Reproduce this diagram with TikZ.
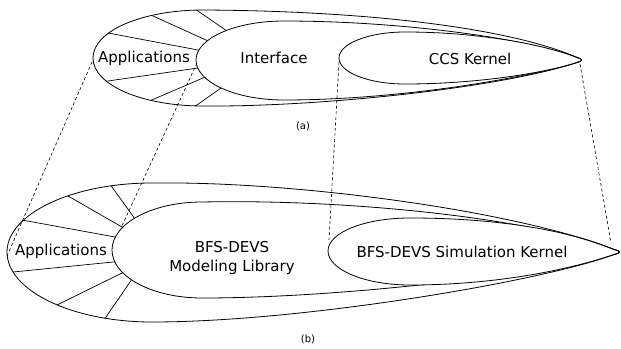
\documentclass[tikz,border=0pt]{standalone}
\usepackage{fontspec}
\setmainfont{DejaVu Sans}
\begin{document}
\begin{tikzpicture}[x=1pt,y=-1pt,
  shapeline/.style={line width=0.8pt},
  spoke/.style={line width=0.7pt, shorten <=-5pt, shorten >=-5pt},
  proj/.style={line width=0.6pt, dash pattern=on 3pt off 2.5pt},
  lbl/.style={inner sep=0pt, font=\fontsize{15}{19}\selectfont},
  captxt/.style={inner sep=0pt, font=\fontsize{10}{12}\selectfont}]
\useasboundingbox (0,0) rectangle (621,348);
% ---------- paths (a)
\def\outerA{(93,58) .. controls (93,31) and (142,10) .. (203,10)
  .. controls (380,11) and (515,30) .. (577,57.5)
  .. controls (583,58.8) and (583,61.2) .. (577,62.5)
  .. controls (500,88) and (320,107) .. (203,106)
  .. controls (142,106) and (93,85) .. (93,58) -- cycle}
\def\midA{(196,60) .. controls (196,38.5) and (235,21) .. (284,21)
  .. controls (400,21) and (525,38) .. (577,57.5)
  .. controls (583,58.8) and (583,61.2) .. (577,62.5)
  .. controls (525,78) and (400,100) .. (284,100)
  .. controls (235,100) and (196,82) .. (196,60) -- cycle}
\def\innA{(339,58) .. controls (339,43.6) and (368.6,32) .. (405,32)
  .. controls (480,32) and (545,45) .. (577,57.5)
  .. controls (583,58.8) and (583,61.2) .. (577,62.5)
  .. controls (548,72) and (480,84) .. (405,84)
  .. controls (368.6,84) and (339,72.4) .. (339,58) -- cycle}
% ---------- paths (b)
\def\outerB{(7,252) .. controls (7,214) and (72,183) .. (152,183)
  .. controls (300,181) and (520,212) .. (614,249.5)
  .. controls (621,251) and (621,253) .. (614,254.5)
  .. controls (540,282) and (300,322) .. (152,322)
  .. controls (72,322) and (7,290.6) .. (7,252) -- cycle}
\def\midB{(112,250) .. controls (112,223.5) and (152.3,202) .. (202,202)
  .. controls (350,199) and (530,218) .. (614,249.5)
  .. controls (621,251) and (621,253) .. (614,254.5)
  .. controls (550,272) and (350,298) .. (202,298)
  .. controls (152.3,298) and (112,276.5) .. (112,250) -- cycle}
\def\innB{(328,251) .. controls (328,232.5) and (364.7,218) .. (410,218)
  .. controls (500,218) and (570,231) .. (614,249.5)
  .. controls (621,251) and (621,253) .. (614,254.5)
  .. controls (575,268) and (500,285) .. (410,285)
  .. controls (364.7,285) and (328,269.5) .. (328,251) -- cycle}
% ---------- spokes (a)
\begin{scope}
  \clip \outerA;
  \coordinate (sa1o) at (108,33);  \coordinate (sa1i) at (198,50);
  \coordinate (sa2o) at (153,16);  \coordinate (sa2i) at (206,40);
  \coordinate (sa3o) at (198,11);  \coordinate (sa3i) at (227,31);
  \coordinate (sa4o) at (108,81);  \coordinate (sa4i) at (198,68);
  \coordinate (sa5o) at (154,99);  \coordinate (sa5i) at (203,78);
  \coordinate (sa6o) at (197,105); \coordinate (sa6i) at (221,88);
  \foreach \k in {1,...,6} \draw[spoke] (sa\k o) -- (sa\k i);
\end{scope}
\draw[shapeline, fill=white] \midA;
\draw[shapeline, fill=white] \innA;
\draw[shapeline] \outerA;
% ---------- spokes (b)
\begin{scope}
  \clip \outerB;
  \coordinate (sb1o) at (22,220);  \coordinate (sb1i) at (115,237);
  \coordinate (sb2o) at (68,196);  \coordinate (sb2i) at (122,227);
  \coordinate (sb3o) at (112,187); \coordinate (sb3i) at (135,219);
  \coordinate (sb4o) at (13,272);  \coordinate (sb4i) at (113,262);
  \coordinate (sb5o) at (55,306);  \coordinate (sb5i) at (122,273);
  \coordinate (sb6o) at (106,317); \coordinate (sb6i) at (130,282);
  \foreach \k in {1,...,6} \draw[spoke] (sb\k o) -- (sb\k i);
\end{scope}
\draw[shapeline, fill=white] \midB;
\draw[shapeline, fill=white] \innB;
\draw[shapeline] \outerB;
% ---------- labels
\node[lbl, anchor=base] (appA) at (144,62) {Applications};
\node[lbl, anchor=base] (ifc) at (274,63) {Interface};
\node[lbl, anchor=base] (ccs) at (470,64) {CCS Kernel};
\node[captxt] (capA) at (303,126) {(a)};
\node[lbl, anchor=base] (appB) at (61,255) {Applications};
\node[lbl, align=center] (lib) at (232,257.5) {BFS-DEVS\\Modeling Library};
\node[lbl, anchor=base] (kern) at (462,257) {BFS-DEVS Simulation Kernel};
\node[captxt] (capB) at (308,339) {(b)};
% ---------- projection lines
\coordinate (aOutL) at (92,62);   \coordinate (bOutL) at (7,256);
\coordinate (aMidL) at (197,63);  \coordinate (bMidL) at (121,228);
\coordinate (aInL)  at (339,62);  \coordinate (bInL)  at (329,240);
\coordinate (aTip)  at (580,64);  \coordinate (bTip)  at (611,243);
\draw[proj] (aOutL) -- (bOutL);
\draw[proj] (aMidL) -- (bMidL);
\draw[proj] (aInL) -- (bInL);
\draw[proj] (aTip) -- (bTip);
\end{tikzpicture}
\end{document}
